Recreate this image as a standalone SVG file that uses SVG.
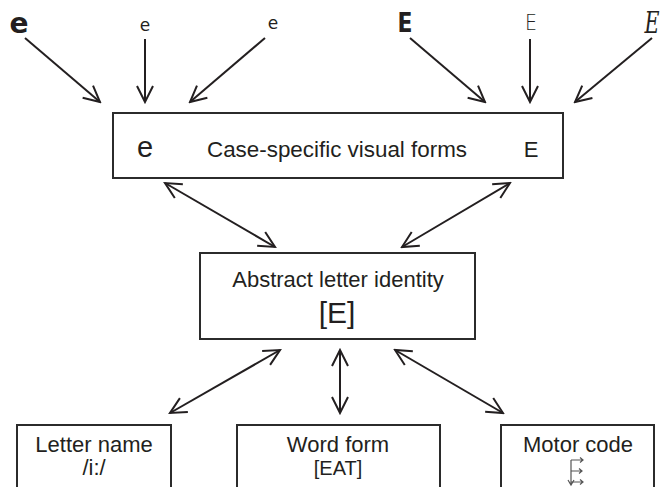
<svg xmlns="http://www.w3.org/2000/svg" width="670" height="487" viewBox="0 0 670 487">
<defs>
<style>
.box{fill:#fff;stroke:#2b2b2b;stroke-width:2}
.t{font-family:"Liberation Sans",Arial,sans-serif;fill:#231f20;text-anchor:middle}
.arr{stroke:#231f20;stroke-width:2;fill:none}
.g{text-anchor:middle;fill:#231f20}
</style>
<marker id="ah" viewBox="-18 -10 20 20" markerWidth="20" markerHeight="20" refX="0" refY="0" markerUnits="userSpaceOnUse" orient="auto-start-reverse">
<path d="M-16,-8 L0,0 L-16,8" fill="none" stroke="#231f20" stroke-width="2"/>
</marker>
</defs>
<rect width="670" height="487" fill="#fff"/>

<g id="glyphs">
<text class="g" x="19" y="33" font-family="DejaVu Sans" font-weight="900" font-size="28">e</text>
<text class="g" x="145" y="31" font-family="DejaVu Sans" font-size="17" fill="#333">e</text>
<text class="g" x="273" y="29" font-family="DejaVu Sans" font-size="17" fill="#333">e</text>
<text class="g" x="405" y="32" font-family="DejaVu Sans" font-weight="900" font-size="27" textLength="15" lengthAdjust="spacingAndGlyphs">E</text>
<text class="g" x="531" y="30" font-family="DejaVu Sans" font-weight="200" font-size="22" fill="#555" textLength="12" lengthAdjust="spacingAndGlyphs">E</text>
<text class="g" x="652" y="33" font-family="DejaVu Serif" font-style="italic" font-size="30" fill="#444" textLength="15" lengthAdjust="spacingAndGlyphs">E</text>
</g>

<g id="connectors">
<line class="arr" x1="25" y1="38" x2="100" y2="102" marker-end="url(#ah)"/>
<line class="arr" x1="145" y1="39" x2="145" y2="102" marker-end="url(#ah)"/>
<line class="arr" x1="265" y1="38" x2="190" y2="102" marker-end="url(#ah)"/>
<line class="arr" x1="410" y1="38" x2="485" y2="102" marker-end="url(#ah)"/>
<line class="arr" x1="530" y1="39" x2="530" y2="102" marker-end="url(#ah)"/>
<line class="arr" x1="652" y1="38" x2="575" y2="102" marker-end="url(#ah)"/>
<line class="arr" x1="165" y1="183" x2="275" y2="247" marker-start="url(#ah)" marker-end="url(#ah)"/>
<line class="arr" x1="510" y1="183" x2="402" y2="247" marker-start="url(#ah)" marker-end="url(#ah)"/>
<line class="arr" x1="280" y1="350" x2="170" y2="413" marker-start="url(#ah)" marker-end="url(#ah)"/>
<line class="arr" x1="340" y1="350" x2="340" y2="413" marker-start="url(#ah)" marker-end="url(#ah)"/>
<line class="arr" x1="395" y1="350" x2="503" y2="413" marker-start="url(#ah)" marker-end="url(#ah)"/>
</g>

<g id="visual-forms">
<rect class="box" x="113" y="113" width="450" height="65"/>
<text class="t" x="145" y="157" font-size="29">e</text>
<text class="t" x="337" y="157" font-size="22.4">Case-specific visual forms</text>
<text class="t" x="531" y="157" font-size="22">E</text>
</g>

<g id="abstract-identity">
<rect class="box" x="200" y="253" width="275" height="86"/>
<text class="t" x="338" y="287" font-size="22">Abstract letter identity</text>
<text class="t" x="337" y="323" font-size="30">[E]</text>
</g>

<g id="letter-name">
<rect class="box" x="17" y="425" width="154" height="70"/>
<text class="t" x="94" y="452" font-size="22">Letter name</text>
<text class="t" x="94" y="475" font-size="22">/i:/</text>
</g>

<g id="word-form">
<rect class="box" x="237" y="425" width="203" height="70"/>
<text class="t" x="338" y="452" font-size="22">Word form</text>
<text class="t" x="338" y="475" font-size="20">[EAT]</text>
</g>

<g id="motor-code">
<rect class="box" x="501" y="425" width="153" height="70"/>
<text class="t" x="578" y="452" font-size="22">Motor code</text>
<g stroke="#555" stroke-width="1.2" fill="none">
<path d="M571,460 V484 M568,480 L571,485 L574,480"/>
<path d="M571,460 H583 M580,457.5 L583,460 L580,462.5"/>
<path d="M571,471 H582 M579,468.5 L582,471 L579,473.5"/>
<path d="M571,482 H583 M580,479.5 L583,482 L580,484.5"/>
</g>
</g>
</svg>
